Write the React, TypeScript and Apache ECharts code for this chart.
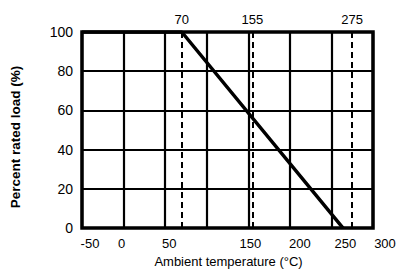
import React, { useEffect, useRef } from "react";
import * as echarts from "echarts";

const curveX = [-50, 70, 264];
const curveY = [100, 100, 0];
const markTemps = [70, 155, 275];
const hiddenXTicks = [100];
const xLabelShift: Record<number, number> = { "-50": 8, 0: -2, 50: 4, 150: 2, 200: 10, 250: 14, 300: 12 };

export default function App() {
  const ref = useRef<HTMLDivElement>(null);
  useEffect(() => {
    const chart = echarts.init(ref.current!, null, { renderer: "svg" });
    const font = "Liberation Sans, Arial, sans-serif";
    const rich: Record<string, any> = {};
    Object.keys(xLabelShift).forEach((k) => {
      const s = xLabelShift[Number(k)];
      rich["s" + String(k).replace("-", "m")] = {
        color: "#000",
        fontSize: 13,
        fontFamily: font,
        padding: s >= 0 ? [0, 0, 0, 2 * s] : [0, -2 * s, 0, 0],
      };
    });
    chart.setOption({
      animation: false,
      grid: {
        left: 82,
        right: 30,
        top: 32,
        bottom: 37,
        show: true,
        borderColor: "#000",
        borderWidth: 3.5,
      },
      xAxis: {
        type: "value",
        min: -50,
        max: 300,
        interval: 50,
        name: "Ambient temperature (°C)",
        nameLocation: "middle",
        nameGap: 24,
        nameTextStyle: { color: "#000", fontSize: 13, fontFamily: font, padding: [0, 0, 0, 2] },
        axisLine: { show: false },
        axisTick: { show: false },
        axisLabel: {
          color: "#000",
          fontSize: 13,
          fontFamily: font,
          margin: 9,
          formatter: (v: number) =>
            hiddenXTicks.includes(v) ? "" : "{s" + String(v).replace("-", "m") + "|" + v + "}",
          rich,
        },
        splitLine: { show: true, lineStyle: { color: "#000", width: 2.2 } },
      },
      yAxis: {
        type: "value",
        min: 0,
        max: 100,
        interval: 20,
        name: "Percent rated load (%)",
        nameLocation: "middle",
        nameGap: 60,
        nameTextStyle: {
          color: "#000",
          fontSize: 13.5,
          fontWeight: "bold",
          fontFamily: font,
          padding: [0, 14, 0, 0],
        },
        axisLine: { show: false },
        axisTick: { show: false },
        axisLabel: { color: "#000", fontSize: 14, fontFamily: font, margin: 9 },
        splitLine: { show: true, lineStyle: { color: "#000", width: 2.2 } },
      },
      series: [
        {
          type: "line",
          data: curveX.map((x, i) => [x, curveY[i]]),
          symbol: "none",
          lineStyle: { color: "#000", width: 3.5 },
          markLine: {
            symbol: "none",
            silent: true,
            lineStyle: { color: "#000", type: [6, 4], width: 2 },
            label: {
              show: true,
              position: "end",
              color: "#000",
              fontSize: 13,
              fontFamily: font,
              distance: 6,
              formatter: (p: any) => String(p.value),
            },
            data: markTemps.map((t) => ({ xAxis: t })),
          },
        },
      ],
    });
    return () => chart.dispose();
  }, []);
  return (
    <div
      ref={ref}
      style={{ position: "absolute", left: 0, top: 0, width: 403, height: 273, background: "#fff" }}
    />
  );
}
